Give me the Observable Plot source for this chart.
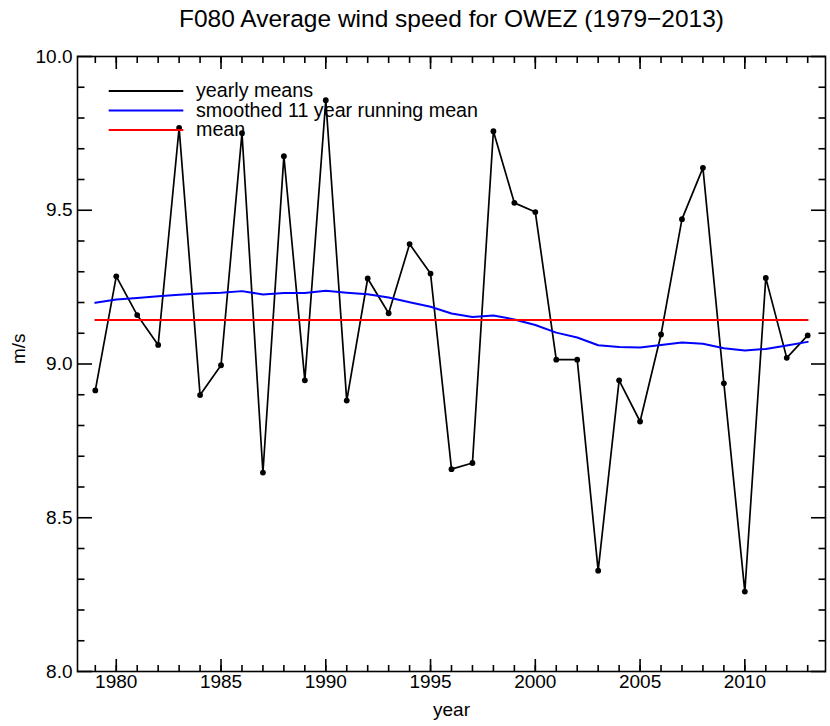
<!DOCTYPE html>
<html>
<head>
<meta charset="utf-8">
<script src="https://cdn.jsdelivr.net/npm/d3@7"></script>
<script src="https://cdn.jsdelivr.net/npm/@observablehq/plot@0.6"></script>
<style>
  html, body { margin: 0; padding: 0; background: white; }
  #chart { position: relative; width: 830px; height: 726px; }
</style>
</head>
<body>
<div id="chart"></div>
<script>
const years = [1979,1980,1981,1982,1983,1984,1985,1986,1987,1988,1989,1990,1991,1992,1993,1994,1995,1996,1997,1998,1999,2000,2001,2002,2003,2004,2005,2006,2007,2008,2009,2010,2011,2012,2013];
const yearlyMeans = [8.914,9.285,9.159,9.062,9.768,8.899,8.996,9.751,8.647,9.676,8.947,9.858,8.881,9.278,9.165,9.390,9.294,8.658,8.678,9.757,9.524,9.494,9.014,9.014,8.328,8.947,8.813,9.096,9.471,9.638,8.937,8.260,9.280,9.020,9.093];
const smoothed = [9.199,9.210,9.215,9.220,9.225,9.229,9.232,9.237,9.226,9.231,9.231,9.238,9.232,9.227,9.216,9.201,9.186,9.164,9.153,9.158,9.145,9.127,9.102,9.086,9.061,9.055,9.054,9.062,9.070,9.066,9.051,9.044,9.049,9.060,9.072];
const meanValue = 9.143;
const xMajorTicks = [1980,1985,1990,1995,2000,2005,2010];
const xMinorTicks = years;
const yMajorTicks = [8.0,8.5,9.0,9.5,10.0];
const yMinorTicks = [8.1,8.2,8.3,8.4,8.6,8.7,8.8,8.9,9.1,9.2,9.3,9.4,9.6,9.7,9.8,9.9];
const legendLabels = ["yearly means","smoothed 11 year running mean","mean"];
const legendColors = ["black","blue","red"];
const titleText = "F080 Average wind speed for OWEZ (1979\u22122013)";

const yearly = years.map((y,i)=>({year:y, v:yearlyMeans[i]}));
const smooth = years.map((y,i)=>({year:y, v:smoothed[i]}));
const meanLine = [{year:years[0], v:meanValue},{year:years[years.length-1], v:meanValue}];

const font = "'Liberation Sans', Arial, Helvetica, sans-serif";
const sw = 1.6;

const plot = Plot.plot({
  width: 830,
  height: 726,
  marginLeft: 77,
  marginRight: 5,
  marginTop: 56,
  marginBottom: 55,
  style: {fontFamily: font, fontSize: "19px", background: "white", color: "black", overflow: "visible"},
  x: {domain: [1978.15, 2013.85]},
  y: {domain: [8, 10]},
  marks: [
    Plot.line(yearly, {x:"year", y:"v", stroke:"black", strokeWidth:1.7}),
    Plot.dot(yearly, {x:"year", y:"v", r:2.9, fill:"black", stroke:"none"}),
    Plot.line(smooth, {x:"year", y:"v", stroke:"blue", strokeWidth:2}),
    Plot.line(meanLine, {x:"year", y:"v", stroke:"red", strokeWidth:2}),
    Plot.frame({stroke:"black", strokeWidth:sw}),
    // bottom ticks
    Plot.axisX({anchor:"bottom", ticks:xMajorTicks, tickSize:-12, text:null, label:null, strokeWidth:sw}),
    Plot.axisX({anchor:"bottom", ticks:xMinorTicks, tickSize:-6, text:null, label:null, strokeWidth:sw}),
    Plot.axisX({anchor:"bottom", ticks:xMajorTicks, tickSize:0, tickPadding:3, tickFormat:d=>String(d), label:null, fontSize:19}),
    // top ticks
    Plot.axisX({anchor:"top", ticks:xMajorTicks, tickSize:-12, text:null, label:null, strokeWidth:sw}),
    Plot.axisX({anchor:"top", ticks:xMinorTicks, tickSize:-6, text:null, label:null, strokeWidth:sw}),
    // left ticks
    Plot.axisY({anchor:"left", ticks:yMajorTicks, tickSize:-15, text:null, label:null, strokeWidth:sw}),
    Plot.axisY({anchor:"left", ticks:yMinorTicks, tickSize:-7.5, text:null, label:null, strokeWidth:sw}),
    Plot.axisY({anchor:"left", ticks:yMajorTicks, tickSize:0, tickPadding:5, tickFormat:d=>d.toFixed(1), label:null, fontSize:19}),
    // right ticks
    Plot.axisY({anchor:"right", ticks:yMajorTicks, tickSize:-15, text:null, label:null, strokeWidth:sw}),
    Plot.axisY({anchor:"right", ticks:yMinorTicks, tickSize:-7.5, text:null, label:null, strokeWidth:sw}),
    // labels
    Plot.text(["year"], {frameAnchor:"bottom", dy:44, fontSize:19, fill:"black"}),
    Plot.text(["m/s"], {frameAnchor:"left", dx:-59, rotate:-90, fontSize:19, fill:"black"}),
    Plot.text([titleText], {frameAnchor:"top", dy:-47, fontSize:24.5, fill:"black"})
  ]
});

document.getElementById("chart").appendChild(plot);

// legend inside plot area (top-left)
const svg = d3.select(plot);
const lg = svg.append("g").attr("font-family", font).attr("font-size", 19.7).attr("text-anchor", "start");
legendLabels.forEach((lab, i) => {
  const yy = 91 + i * 19.5;
  lg.append("line").attr("x1", 108.7).attr("x2", 183.3).attr("y1", yy).attr("y2", yy)
    .attr("stroke", legendColors[i]).attr("stroke-width", 2);
  lg.append("text").attr("x", 196).attr("y", yy).attr("dy", "0.32em").attr("fill", "black")
    .attr("text-anchor", "start").text(lab);
});
</script>
</body>
</html>
